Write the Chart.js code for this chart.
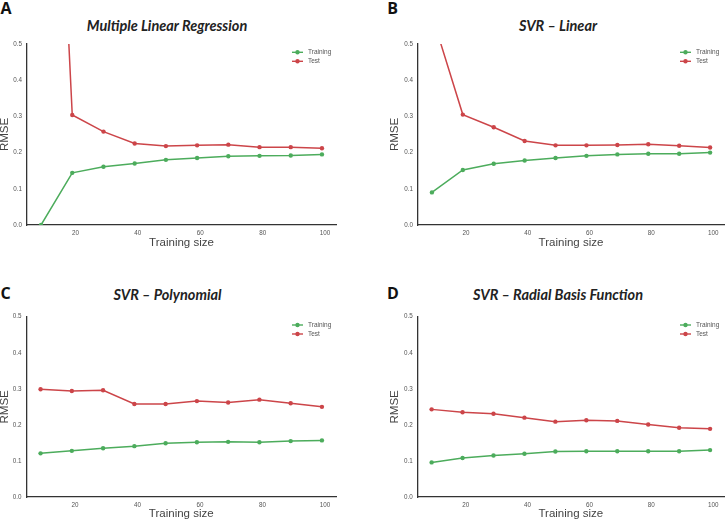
<!DOCTYPE html>
<html><head><meta charset="utf-8">
<script src="https://cdn.jsdelivr.net/npm/chart.js@4/dist/chart.umd.min.js"></script>
<style>
html,body{margin:0;padding:0;background:#fff;width:728px;height:521px;overflow:hidden;}
canvas{position:absolute;}
.letter{position:absolute;font-family:"Open Sans";font-weight:700;font-size:16px;color:#111;line-height:1;transform:translate(-50%,-50%);}
.title{position:absolute;font-family:"Lato";font-weight:700;font-style:italic;font-size:14.5px;color:#222;transform:translate(-50%,-50%);white-space:nowrap;line-height:1;}
</style></head><body>
<div class="letter" style="left:6px;top:7.5px">A</div>
<div class="letter" style="left:392.5px;top:7.5px">B</div>
<div class="letter" style="left:5.5px;top:293px">C</div>
<div class="letter" style="left:393px;top:292.5px">D</div>
<div class="title" style="left:167px;top:25.5px">Multiple Linear Regression</div>
<div class="title" style="left:558px;top:25.5px">SVR – Linear</div>
<div class="title" style="left:167.5px;top:294.5px">SVR – Polynomial</div>
<div class="title" style="left:558px;top:294.5px">SVR – Radial Basis Function</div>
<canvas id="cA" width="364" height="260" style="left:0;top:0"></canvas>
<canvas id="cB" width="364" height="260" style="left:364px;top:0"></canvas>
<canvas id="cC" width="364" height="261" style="left:0;top:260px"></canvas>
<canvas id="cD" width="364" height="261" style="left:364px;top:260px"></canvas>
<script>
const trainSizes = [9, 19, 29, 39, 49, 59, 69, 79, 89, 99];
const xTickValues = [20, 40, 60, 80, 100];
const yTickValues = [0.0, 0.1, 0.2, 0.3, 0.4, 0.5];
const seriesNames = ['Training', 'Test'];

const mlrTrain = [0.000, 0.144, 0.161, 0.170, 0.180, 0.185, 0.190, 0.191, 0.192, 0.195];
const mlrTest  = [2.10, 0.304, 0.258, 0.225, 0.218, 0.220, 0.222, 0.215, 0.215, 0.212];
const linTrain = [0.090, 0.152, 0.169, 0.178, 0.185, 0.191, 0.195, 0.197, 0.197, 0.200];
const linTest  = [0.58, 0.305, 0.270, 0.232, 0.220, 0.220, 0.221, 0.223, 0.219, 0.214];
const polyTrain = [0.121, 0.128, 0.135, 0.141, 0.149, 0.152, 0.153, 0.152, 0.155, 0.157];
const polyTest  = [0.299, 0.294, 0.296, 0.258, 0.258, 0.266, 0.262, 0.270, 0.260, 0.250];
const rbfTrain = [0.096, 0.108, 0.115, 0.120, 0.126, 0.127, 0.127, 0.127, 0.127, 0.130];
const rbfTest  = [0.243, 0.235, 0.231, 0.220, 0.209, 0.213, 0.211, 0.201, 0.192, 0.189];

const GREEN = '#4cac5c';
const RED = '#cc4549';
const FONT = '"Liberation Sans", Arial, sans-serif';

const insideLegend = {
  id: 'insideLegend',
  afterDatasetsDraw(chart) {
    const {ctx, chartArea} = chart;
    ctx.save();
    chart.data.datasets.forEach((ds, i) => {
      const y = chartArea.top + 8.3 + i * 9;
      const x0 = chartArea.right - 44, x1 = chartArea.right - 33;
      ctx.strokeStyle = ds.borderColor; ctx.lineWidth = 1.4;
      ctx.beginPath(); ctx.moveTo(x0, y); ctx.lineTo(x1, y); ctx.stroke();
      ctx.fillStyle = ds.borderColor;
      ctx.beginPath(); ctx.arc((x0 + x1) / 2, y, 2.2, 0, Math.PI * 2); ctx.fill();
      ctx.fillStyle = '#555';
      ctx.font = '6.5px ' + FONT;
      ctx.textBaseline = 'middle'; ctx.textAlign = 'left';
      ctx.fillText(ds.label, chartArea.right - 28, y);
    });
    ctx.restore();
  }
};

function ds(label, values, color) {
  return {
    label, data: trainSizes.map((x, i) => ({x, y: values[i]})),
    borderColor: color, backgroundColor: color, borderWidth: 1.5,
    pointRadius: 2.2, pointBorderWidth: 0, tension: 0
  };
}

function makeChart(id, train, test, o) {
  new Chart(document.getElementById(id), {
    type: 'line',
    data: { datasets: [ds(seriesNames[0], train, GREEN), ds(seriesNames[1], test, RED)] },
    options: {
      responsive: false, animation: false, devicePixelRatio: 1,
      layout: { padding: { left: o.padLeft, right: o.padRight, top: o.padTop, bottom: 0 } },
      plugins: { legend: { display: false }, tooltip: { enabled: false }, title: { display: false } },
      scales: {
        x: {
          type: 'linear', min: 4.5, max: 103.5,
          grid: { display: false, drawTicks: false },
          border: { display: true, color: '#333', width: 1.3 },
          afterBuildTicks: s => { s.ticks = xTickValues.map(v => ({ value: v })); },
          ticks: { font: { family: FONT, size: 6.3 }, color: '#555', padding: 4, maxRotation: 0, autoSkip: false,
                   callback: v => String(v) },
          title: { display: true, text: 'Training size', font: { family: FONT, size: 11.5, lineHeight: 1.2 }, color: '#444',
                   padding: { top: 0, bottom: o.xTitlePad } },
          afterFit: s => { s.height = o.xHeight; }
        },
        y: {
          min: 0, max: 0.5,
          grid: { display: false, drawTicks: false },
          border: { display: true, color: '#333', width: 1.3 },
          afterBuildTicks: s => { s.ticks = yTickValues.map(v => ({ value: v })); },
          ticks: { font: { family: FONT, size: 6.3 }, color: '#555', padding: 5, callback: v => v.toFixed(1) },
          title: { display: true, text: 'RMSE', font: { family: FONT, size: 11.5, lineHeight: 0.8 }, color: '#444',
                   padding: 0 },
          afterFit: s => { s.width = o.yWidth; }
        }
      }
    },
    plugins: [insideLegend]
  });
}

makeChart('cA', mlrTrain, mlrTest, { padLeft: 0, yWidth: 27, padTop: 44, padRight: 28, xHeight: 35, xTitlePad: 10.4 });
makeChart('cB', linTrain, linTest, { padLeft: 26.4, yWidth: 27.6, padTop: 44, padRight: 4, xHeight: 35, xTitlePad: 10.4 });
makeChart('cC', polyTrain, polyTest, { padLeft: 0, yWidth: 26.5, padTop: 56.7, padRight: 28, xHeight: 24, xTitlePad: 0.4 });
makeChart('cD', rbfTrain, rbfTest, { padLeft: 26.3, yWidth: 27.4, padTop: 56.7, padRight: 4, xHeight: 24, xTitlePad: 0.4 });
</script>
</body></html>
